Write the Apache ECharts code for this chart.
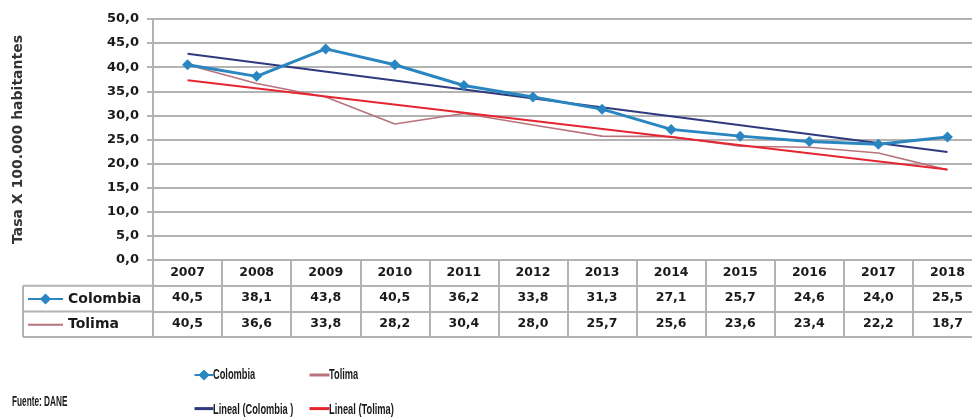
<!DOCTYPE html>
<html>
<head>
<meta charset="utf-8">
<script src="https://cdn.jsdelivr.net/npm/echarts@6/dist/echarts.min.js"></script>
<style>
  html, body { margin: 0; padding: 0; background: #fff; overflow: hidden; }
  /* the plot runs a little past the right edge of the picture */
  #chart { width: 1000px; height: 418px; }
</style>
</head>
<body>
<div id="chart"></div>
<script>
const years = ['2007', '2008', '2009', '2010', '2011', '2012', '2013', '2014', '2015', '2016', '2017', '2018']
const colombia = [40.5, 38.1, 43.8, 40.5, 36.2, 33.8, 31.3, 27.1, 25.7, 24.6, 24.0, 25.5]
const tolima = [40.5, 36.6, 33.8, 28.2, 30.4, 28.0, 25.7, 25.6, 23.6, 23.4, 22.2, 18.7]
// trend lines, read at both ends
const linealColombia = [42.8, null, null, null, null, null, null, null, null, null, null, 22.4]
const linealTolima = [37.3, null, null, null, null, null, null, null, null, null, null, 18.8]

const fmt = v => v.toFixed(1).replace('.', ',')
const gray = '#b3b3b3'
const boldFont = 'DejaVu Sans'
const plainFont = '"Liberation Sans", Arial'
const rowH = 25.7

const chart = echarts.init(document.getElementById('chart'))

function rowAxis (offset, values, showTicks) {
  return {
    type: 'category',
    data: years,
    position: 'bottom',
    offset: offset,
    gridIndex: 0,
    boundaryGap: true,
    axisLine: { show: true, lineStyle: { color: gray, width: 2 } },
    axisTick: { show: showTicks, interval: 0, length: rowH, lineStyle: { color: gray, width: 2 } },
    axisLabel: {
      show: !!values,
      interval: 0,
      margin: 6,
      fontFamily: boldFont,
      fontWeight: 'bold',
      fontSize: 12.5,
      color: '#1a1a1a',
      formatter: (v, i) => values ? values[i] : ''
    },
    splitLine: { show: false }
  }
}

// narrow bold labels for the bottom legend and the source note
function narrowText (text, x, y, size, sx) {
  return {
    type: 'text',
    x: x,
    y: y,
    scaleX: sx,
    style: { text: text, fontFamily: plainFont, fontWeight: 'bold', fontSize: size, fill: '#1a1a1a', verticalAlign: 'middle' }
  }
}

const plainLine = name => ({ name: name, itemStyle: { opacity: 0 } })
const thickLine = name => ({ name: name, itemStyle: { opacity: 0 }, lineStyle: { width: 3 } })

const option = {
  animation: false,
  backgroundColor: '#fff',
  grid: { left: 153, right: 18, top: 19, bottom: 158 },
  xAxis: [
    rowAxis(0, years, true),
    rowAxis(rowH, colombia.map(fmt), true),
    rowAxis(rowH * 2, tolima.map(fmt), true),
    rowAxis(rowH * 3, null, false)
  ],
  yAxis: {
    type: 'value',
    min: 0,
    max: 50,
    interval: 5,
    name: 'Tasa X 100.000 habitantes',
    nameLocation: 'middle',
    nameRotate: 90,
    nameGap: 128,
    nameTextStyle: { fontFamily: boldFont, fontWeight: 'bold', fontSize: 14, color: '#333' },
    axisLine: { show: true, lineStyle: { color: gray, width: 2 } },
    axisTick: { show: true, length: 6, lineStyle: { color: gray, width: 2 } },
    axisLabel: { formatter: fmt, margin: 14, fontFamily: boldFont, fontWeight: 'bold', fontSize: 13, color: '#1a1a1a' },
    splitLine: { lineStyle: { color: gray, width: 2 } }
  },
  legend: [
    {
      // row labels of the table
      data: ['Colombia', plainLine('Tolima')],
      orient: 'vertical',
      left: 27,
      top: 292,
      padding: 0,
      itemGap: 11.7,
      itemWidth: 35,
      itemHeight: 14,
      selectedMode: false,
      textStyle: { fontFamily: boldFont, fontWeight: 'bold', fontSize: 14, color: '#1a1a1a' }
    },
    {
      data: ['Colombia', thickLine('Lineal (Colombia )')],
      orient: 'vertical',
      left: 193,
      top: 368,
      padding: 0,
      itemGap: 21,
      itemWidth: 19,
      itemHeight: 14,
      selectedMode: false,
      formatter: () => ''
    },
    {
      data: [thickLine('Tolima'), thickLine('Lineal (Tolima)')],
      orient: 'vertical',
      left: 308,
      top: 368,
      padding: 0,
      itemGap: 21,
      itemWidth: 20,
      itemHeight: 14,
      selectedMode: false,
      formatter: () => ''
    }
  ],
  graphic: [
    { type: 'line', shape: { x1: 23, y1: 260 + rowH, x2: 153, y2: 260 + rowH }, style: { stroke: gray, lineWidth: 2 } },
    { type: 'line', shape: { x1: 23, y1: 260 + rowH * 2, x2: 153, y2: 260 + rowH * 2 }, style: { stroke: gray, lineWidth: 2 } },
    { type: 'line', shape: { x1: 23, y1: 260 + rowH * 3, x2: 153, y2: 260 + rowH * 3 }, style: { stroke: gray, lineWidth: 2 } },
    { type: 'line', shape: { x1: 23, y1: 260 + rowH, x2: 23, y2: 260 + rowH * 3 }, style: { stroke: gray, lineWidth: 2 } },
    narrowText('Colombia', 213, 375, 14.5, 0.64),
    narrowText('Lineal (Colombia )', 213, 410, 14.5, 0.64),
    narrowText('Tolima', 329, 375, 14.5, 0.64),
    narrowText('Lineal (Tolima)', 329, 410, 14.5, 0.64),
    narrowText('Fuente: DANE', 12, 402, 14, 0.59)
  ],
  series: [
    {
      name: 'Colombia',
      type: 'line',
      data: colombia,
      symbol: 'diamond',
      symbolSize: 11,
      color: '#2a86c0',
      lineStyle: { width: 3 },
      z: 5
    },
    {
      name: 'Tolima',
      type: 'line',
      data: tolima,
      symbol: 'none',
      color: '#b8737d',
      lineStyle: { width: 1.6 },
      z: 3
    },
    {
      name: 'Lineal (Colombia )',
      type: 'line',
      data: linealColombia,
      connectNulls: true,
      symbol: 'none',
      color: '#2f3a7e',
      lineStyle: { width: 2 },
      z: 4
    },
    {
      name: 'Lineal (Tolima)',
      type: 'line',
      data: linealTolima,
      connectNulls: true,
      symbol: 'none',
      color: '#e52630',
      lineStyle: { width: 2 },
      z: 4
    }
  ]
}

chart.setOption(option)
</script>
</body>
</html>
